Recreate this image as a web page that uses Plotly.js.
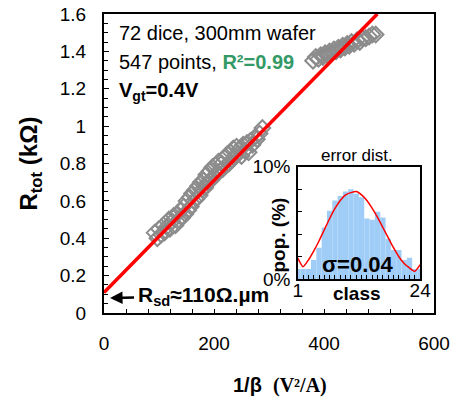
<!DOCTYPE html>
<html>
<head>
<meta charset="utf-8">
<script src="https://cdn.plot.ly/plotly-3.0.1.min.js"></script>
<style>
  html, body { margin: 0; padding: 0; background: #fff; }
  #chart { width: 472px; height: 402px; }
</style>
</head>
<body>
<div id="chart"></div>
<script>
// Total resistance vs 1/beta, lower cluster of dice
const invBetaLow = [92, 97, 100, 104, 108, 110, 114, 118, 120, 124, 127, 130, 133, 136, 140, 142, 145, 148, 150, 153,
  156, 158, 160, 163, 166, 168, 171, 174, 176, 178, 181, 184, 186, 189, 192, 195, 197, 200, 203, 206,
  208, 211, 214, 216, 219, 222, 224, 227, 230, 233, 235, 238, 241, 244, 247, 250, 253, 256, 260, 263,
  266, 270, 274, 278, 283, 288];
const rtotLow = [0.43, 0.40, 0.45, 0.42, 0.47, 0.43, 0.46, 0.50, 0.45, 0.49, 0.52, 0.47, 0.53, 0.50, 0.55, 0.51, 0.57, 0.53, 0.60, 0.55,
  0.62, 0.57, 0.64, 0.60, 0.66, 0.61, 0.68, 0.63, 0.70, 0.66, 0.71, 0.67, 0.74, 0.70, 0.76, 0.71, 0.78, 0.73, 0.79, 0.75,
  0.81, 0.76, 0.80, 0.77, 0.83, 0.79, 0.85, 0.80, 0.86, 0.82, 0.88, 0.84, 0.89, 0.85, 0.88, 0.84, 0.90, 0.87, 0.91, 0.86,
  0.92, 0.90, 0.94, 0.93, 0.96, 0.99];

// Upper cluster
const invBetaHigh = [380, 385, 390, 394, 398, 402, 406, 410, 414, 418, 422, 426, 430, 434, 438, 442, 446, 450, 455, 460,
  465, 470, 476, 482, 488, 494];
const rtotHigh = [1.35, 1.37, 1.36, 1.38, 1.37, 1.39, 1.38, 1.40, 1.39, 1.41, 1.40, 1.42, 1.41, 1.43, 1.42, 1.44, 1.43, 1.45, 1.44, 1.46,
  1.45, 1.47, 1.47, 1.48, 1.49, 1.49];

// Linear fit end points (intercept = Rsd)
const fitX = [0, 497];
const fitY = [0.11, 1.6];

// Error distribution histogram (inset)
const classes = [1, 2, 3, 4, 5, 6, 7, 8, 9, 10, 11, 12, 13, 14, 15, 16, 17, 18, 19, 20, 21, 22, 23, 24];
const popPct = [0.9, 0.9, 0.9, 1.7, 2.8, 4.6, 6.1, 7.0, 7.4, 7.8, 8.0, 7.6, 7.3, 5.4, 5.3, 6.0, 5.5, 3.6, 2.6, 2.6, 1.7, 1.9, 0.9, 0.9];
const fitPct = [1.9, 1.1, 1.7, 2.5, 3.4, 4.4, 5.4, 6.3, 7.0, 7.5, 7.7, 7.8, 7.5, 7.0, 6.3, 5.5, 4.6, 3.7, 2.8, 2.0, 1.4, 1.0, 0.7, 1.3];

const FONT = 'Liberation Sans, Arial, sans-serif';

const traces = [
  {
    x: invBetaLow.concat(invBetaHigh), y: rtotLow.concat(rtotHigh),
    type: 'scatter', mode: 'markers',
    marker: { symbol: 'diamond-open', size: 12, color: '#8c8c8c', line: { width: 2, color: '#8c8c8c' } },
    hoverinfo: 'skip', showlegend: false
  },
  {
    x: fitX, y: fitY, type: 'scatter', mode: 'lines',
    line: { color: '#ff0000', width: 3.5 },
    showlegend: false, cliponaxis: true
  },
  {
    x: classes, y: popPct, type: 'bar', xaxis: 'x2', yaxis: 'y2',
    width: 1, marker: { color: '#9fcdf7', line: { width: 0 } },
    showlegend: false
  },
  {
    x: classes, y: fitPct, type: 'scatter', mode: 'lines', xaxis: 'x2', yaxis: 'y2',
    line: { color: '#ff0000', width: 1.5, shape: 'spline', smoothing: 0.5 },
    showlegend: false
  }
];

const tickFont = { family: FONT, size: 19, color: '#000' };

const layout = {
  width: 472, height: 402,
  margin: { l: 104, r: 38, t: 14, b: 89 },
  paper_bgcolor: '#fff', plot_bgcolor: 'rgba(0,0,0,0)',
  showlegend: false,
  xaxis: {
    range: [0, 600], tick0: 0, dtick: 200,
    ticks: 'inside', ticklen: 4, tickwidth: 1, tickcolor: '#000',
    minor: { dtick: 40, ticks: 'inside', ticklen: 4, tickwidth: 1, tickcolor: '#000' },
    showline: true, linewidth: 2, linecolor: '#000', mirror: true,
    showgrid: false, zeroline: false,
    tickfont: tickFont, ticklabelstandoff: 12
  },
  yaxis: {
    range: [0, 1.6], tick0: 0, dtick: 0.2,
    ticks: 'inside', ticklen: 5, tickwidth: 1, tickcolor: '#000',
    minor: { dtick: 0.05, ticks: 'inside', ticklen: 4, tickwidth: 1, tickcolor: '#000' },
    showline: true, linewidth: 2, linecolor: '#000', mirror: true,
    showgrid: false, zeroline: false,
    tickfont: tickFont, ticklabelstandoff: 12
  },
  xaxis2: {
    domain: [0.587, 0.958], anchor: 'y2', range: [1, 24],
    tickmode: 'array', tickvals: [1, 24], ticktext: ['1', '24'],
    ticks: '',
    minor: { tickmode: 'linear', tick0: 1, dtick: 1, ticks: 'inside', ticklen: 4, tickwidth: 1, tickcolor: '#000' },
    showline: true, linewidth: 1.5, linecolor: '#000', mirror: true,
    showgrid: false, zeroline: false,
    tickfont: tickFont, ticklabelstandoff: -7
  },
  yaxis2: {
    domain: [0.113, 0.489], anchor: 'x2', range: [0, 10],
    tickmode: 'array', tickvals: [0, 10], ticktext: ['0%', '10%'],
    ticks: '',
    minor: { tickmode: 'linear', tick0: 0, dtick: 2, ticks: 'inside', ticklen: 4, tickwidth: 1, tickcolor: '#000' },
    showline: true, linewidth: 1.5, linecolor: '#000', mirror: true,
    showgrid: false, zeroline: false,
    tickfont: tickFont, ticklabelstandoff: 2
  },
  annotations: [
    { xref: 'paper', yref: 'paper', x: -0.224, y: 0.5, xanchor: 'center', yanchor: 'middle',
      textangle: -90, showarrow: false,
      text: '<b>R<sub>tot</sub> (kΩ)</b>', font: { family: FONT, size: 24, color: '#000' } },
    { xref: 'paper', yref: 'paper', x: 0.533, y: -0.244, xanchor: 'center', yanchor: 'middle', showarrow: false,
      text: '<b>1/β  </b><span style="font-family:Liberation Serif, Times New Roman, serif"><b>(V²/A)</b></span>',
      font: { family: FONT, size: 20, color: '#000' } },
    { xref: 'paper', yref: 'paper', x: 0.039, y: 0.936, xanchor: 'left', yanchor: 'middle', showarrow: false,
      text: '72 dice, 300mm wafer', font: { family: FONT, size: 20, color: '#000' } },
    { xref: 'paper', yref: 'paper', x: 0.039, y: 0.839, xanchor: 'left', yanchor: 'middle', showarrow: false,
      text: '547 points, <span style="color:#339966"><b>R²=0.99</b></span>', font: { family: FONT, size: 20, color: '#000' } },
    { xref: 'paper', yref: 'paper', x: 0.039, y: 0.742, xanchor: 'left', yanchor: 'middle', showarrow: false,
      text: '<b>V<sub>gt</sub>=0.4V</b>', font: { family: FONT, size: 20, color: '#000' } },
    // Rsd label with its arrow pointing at the intercept
    { xref: 'x', yref: 'y', x: 11, y: 0.08, ax: 93, ay: -2, showarrow: true,
      text: '<b>R<sub>sd</sub>≈110Ω.µm</b>', font: { family: FONT, size: 21, color: '#000' },
      arrowhead: 2, arrowsize: 1, arrowwidth: 2.5, arrowcolor: '#000', standoff: 0, startstandoff: 2 },
    { xref: 'paper', yref: 'paper', x: 0.767, y: 0.528, xanchor: 'center', yanchor: 'middle', showarrow: false,
      text: 'error dist.', font: { family: FONT, size: 17, color: '#000' } },
    { xref: 'paper', yref: 'paper', x: 0.530, y: 0.262, xanchor: 'center', yanchor: 'middle', showarrow: false,
      textangle: -90, text: '<b>pop. (%)</b>', font: { family: FONT, size: 19, color: '#000' } },
    { xref: 'paper', yref: 'paper', x: 0.768, y: 0.064, xanchor: 'center', yanchor: 'middle', showarrow: false,
      text: '<b>class</b>', font: { family: FONT, size: 19, color: '#000' } },
    { xref: 'paper', yref: 'paper', x: 0.767, y: 0.161, xanchor: 'center', yanchor: 'middle', showarrow: false,
      text: '<b>σ=0.04</b>', font: { family: FONT, size: 22, color: '#000' } }
  ]
};

Plotly.newPlot('chart', traces, layout, { staticPlot: true, displayModeBar: false });
</script>
</body>
</html>
